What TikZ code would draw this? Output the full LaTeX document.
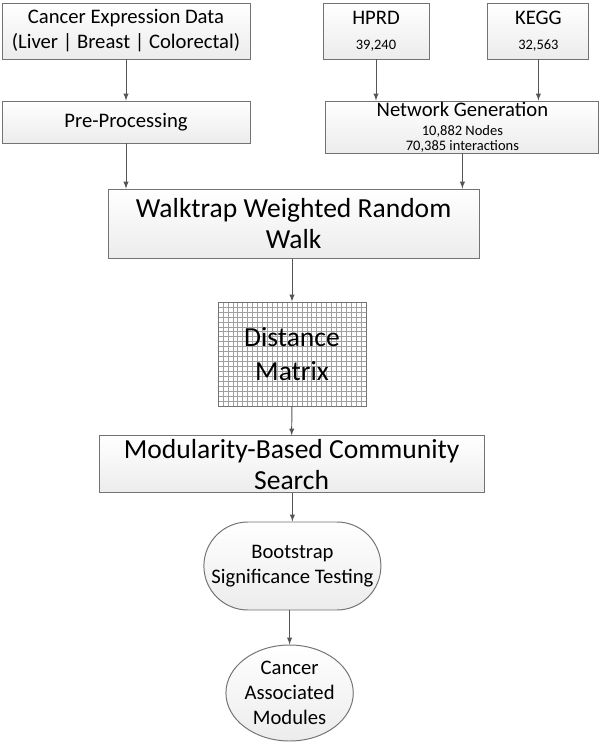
\documentclass[tikz,border=0pt]{standalone}
\usepackage{fontspec}
\setmainfont{Carlito}
\usepackage{tikz}
\usetikzlibrary{shapes}
\definecolor{bc}{RGB}{115,115,115}
\definecolor{ac}{RGB}{85,85,85}
\definecolor{gc}{RGB}{160,160,160}
\newcommand{\fbig}{\fontsize{19.6}{22}\selectfont}
\newcommand{\fmid}{\fontsize{14.7}{17.7}\selectfont}
\newcommand{\fsmall}{\fontsize{10.3}{12}\selectfont}

\begin{document}
\begin{tikzpicture}[
                    every node/.style = {text=black, align=center, font=\fmid},
                    flowbox/.style = {draw=bc, line width=0.7pt, top color=white, bottom color=gray!15, inner sep=0pt},
                    gridline/.style = {draw=gc, line width=0.35pt},
                    every edge/.style = {draw=ac, line width=0.7pt, -latex}]
            \useasboundingbox (0,0) rectangle (15,-18.825);

            % sources
            \node (cancer) [flowbox, minimum width=6.2cm, minimum height=1.4cm] at (3.15,-0.775) {Cancer Expression Data\\(Liver | Breast | Colorectal)};
            \node (hprd) [flowbox, minimum width=2.65cm, minimum height=1.4cm] at (9.4,-0.775) {HPRD\\{\fsmall 39,240}};
            \node (kegg) [flowbox, minimum width=2.525cm, minimum height=1.4cm] at (13.46,-0.775) {KEGG\\{\fsmall 32,563}};

            \node (pre) [flowbox, minimum width=6.2cm, minimum height=1.05cm] at (3.15,-3.05) {Pre-Processing};
            \node (net) [flowbox, minimum width=6.825cm, minimum height=1.3cm] at (11.56,-3.175) {Network Generation\\[-4pt]{\fsmall 10,882 Nodes}\\[-7pt]{\fsmall 70,385 interactions}};

            % pipeline
            \node (walk) [flowbox, minimum width=9.275cm, minimum height=1.725cm, font=\fbig] at (7.34,-5.59) {Walktrap Weighted Random\\Walk};
            \node (dist) [draw=bc, line width=0.7pt, fill=white, minimum width=3.7cm, minimum height=2.6cm, font=\fbig,
                          path picture={
                            \foreach \i in {1,...,29}
                              \draw[gridline] ([xshift=\i*0.12333cm]path picture bounding box.south west) -- ([xshift=\i*0.12333cm]path picture bounding box.north west);
                            \foreach \j in {1,...,20}
                              \draw[gridline] ([yshift=\j*0.12381cm]path picture bounding box.south west) -- ([yshift=\j*0.12381cm]path picture bounding box.south east);
                          }]
                          at (7.3,-8.85) {Distance\\[2pt]Matrix};
            \node (mod) [flowbox, minimum width=9.625cm, minimum height=1.425cm, font=\fbig] at (7.29,-11.61) {Modularity-Based Community\\Search};
            \node (boot) [flowbox, rounded corners=1.1cm, minimum width=4.425cm, minimum height=2.2cm] at (7.31,-14.15) {Bootstrap\\Significance Testing};
            \node (mods) [flowbox, ellipse, minimum width=2.625cm, minimum height=2.4cm] at (7.24,-17.325) {Cancer\\Associated\\Modules};

            \draw (cancer) edge (pre);
            \draw (hprd.south) edge (hprd.south |- net.north);
            \draw (kegg.south) edge (kegg.south |- net.north);
            \draw (pre.south) edge (pre.south |- walk.north);
            \draw (net.south) edge (net.south |- walk.north);
            \draw (walk.south -| dist.north) edge (dist.north);
            \draw (dist) edge (mod);
            \draw (mod.south -| boot.north) edge (boot.north);
            \draw (boot.south -| mods.north) edge (mods.north);
\end{tikzpicture}
\end{document}
